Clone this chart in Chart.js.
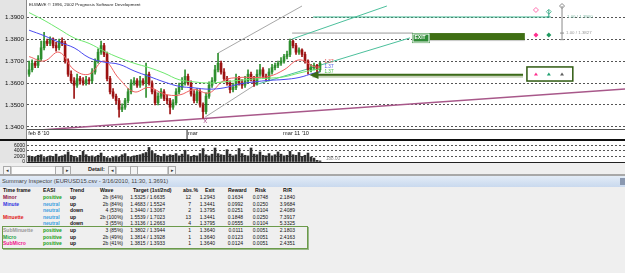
<!DOCTYPE html>
<html>
<head>
<meta charset="utf-8">
<script src="https://cdn.jsdelivr.net/npm/chart.js@4.4.1/dist/chart.umd.min.js"></script>
<style>
html, body { margin: 0; padding: 0; }
body { width: 625px; height: 273px; overflow: hidden; background: #efefef; position: relative;
       font-family: 'Liberation Sans', Arial, sans-serif; }
canvas { position: absolute; left: 0; }
#priceChart { top: 0; }
#volChart { top: 141px; z-index: 2; }
.abs { position: absolute; white-space: nowrap; }
#sepBlack { left: 0; top: 139px; width: 625px; height: 2px; background: #111; }
#scrollRow { left: 0; top: 163px; width: 625px; height: 12px; background: #efefef; }
.btn { position: absolute; top: 3px; width: 6px; height: 7px; background: #f4f4f4; border: 1px solid #aaa;
       font-size: 5px; line-height: 7px; text-align: center; color: #333; }
.track { position: absolute; top: 3px; height: 7px; background: #fbfbfb; border: 1px solid #c8c8c8; }
#grayLine { left: 0; top: 174px; width: 625px; height: 2px; background: #a8a8a8; }
#titleBar { left: 0; top: 176px; width: 625px; height: 11px; background: linear-gradient(#e3ecf7, #c9d9ee);
            font-size: 5.8px; line-height: 11px; color: #444; padding-left: 2px; box-sizing: border-box; }
#titleIcon { right: 0; top: 2px; width: 5px; height: 7px; background: #8a98b0; }
#inspector { left: 0; top: 187px; width: 625px; height: 86px; }
.cell { position: absolute; white-space: nowrap; font-size: 5px; line-height: 6px; color: #111; }
.head { font-weight: bold; font-size: 5.2px; }
#box { left: 2px; top: 226px; width: 304px; height: 21px; border: 1px solid #6b9a4a; box-shadow: 1px 1px 0 #9ab98a; }
</style>
</head>
<body>
<canvas id="priceChart" width="625" height="139"></canvas>
<div id="sepBlack" class="abs"></div>
<div id="scrollRow" class="abs">
  <div class="btn" style="left:3px">&#9666;</div>
  <div class="track" style="left:11px;width:44px"></div>
  <div class="btn" style="left:55px">&nbsp;</div>
  <div class="btn" style="left:63px">&#9656;</div>
  <div class="abs" style="left:88px;top:3px;font-size:5.5px;font-weight:bold;line-height:7px;color:#222">Detail:</div>
  <div class="btn" style="left:108px">&#9666;</div>
  <div class="track" style="left:116px;width:50px"></div>
  <div class="btn" style="left:130px">&nbsp;</div>
  <div class="btn" style="left:168px">&#9656;</div>
</div>
<canvas id="volChart" width="625" height="26"></canvas>
<div id="grayLine" class="abs"></div>
<div id="titleBar" class="abs">Summary Inspector (EURUSD15.csv - 3/16/2010, 11:30, 1.3691)<div id="titleIcon" class="abs"></div></div>
<div id="inspector" class="abs"></div>
<div id="box" class="abs"></div>
<script>
// candles, index 0..97
const candleOpen = [
  1.3640,1.3660,1.3690,1.3680,1.3710,1.3760,1.3790,1.3780,1.3800,1.3770,
  1.3760,1.3790,1.3780,1.3700,1.3640,1.3610,1.3590,1.3620,1.3610,1.3600,
  1.3615,1.3610,1.3650,1.3700,1.3740,1.3770,1.3730,1.3620,1.3560,1.3540,
  1.3520,1.3480,1.3490,1.3520,1.3560,1.3600,1.3610,1.3590,1.3610,1.3600,
  1.3640,1.3600,1.3560,1.3510,1.3540,1.3560,1.3530,1.3520,1.3490,1.3510,
  1.3560,1.3580,1.3600,1.3630,1.3600,1.3550,1.3520,1.3560,1.3500,1.3470,
  1.3540,1.3590,1.3610,1.3660,1.3690,1.3650,1.3620,1.3600,1.3570,1.3580,
  1.3620,1.3600,1.3590,1.3610,1.3640,1.3620,1.3600,1.3640,1.3660,1.3630,
  1.3620,1.3650,1.3670,1.3680,1.3690,1.3700,1.3720,1.3730,1.3790,1.3770,
  1.3740,1.3750,1.3730,1.3700,1.3660,1.3670,1.3680,1.3660];
const candleHigh = [
  1.3700,1.3705,1.3700,1.3725,1.3790,1.3830,1.3800,1.3810,1.3805,1.3785,
  1.3800,1.3805,1.3790,1.3710,1.3655,1.3625,1.3640,1.3630,1.3625,1.3630,
  1.3625,1.3665,1.3710,1.3755,1.3790,1.3780,1.3740,1.3630,1.3575,1.3550,
  1.3530,1.3505,1.3530,1.3575,1.3615,1.3625,1.3620,1.3630,1.3620,1.3690,
  1.3650,1.3610,1.3570,1.3555,1.3575,1.3570,1.3545,1.3530,1.3525,1.3575,
  1.3600,1.3625,1.3660,1.3640,1.3610,1.3565,1.3575,1.3570,1.3510,1.3555,
  1.3605,1.3625,1.3680,1.3735,1.3700,1.3665,1.3630,1.3610,1.3600,1.3640,
  1.3630,1.3615,1.3630,1.3660,1.3650,1.3630,1.3660,1.3685,1.3670,1.3640,
  1.3665,1.3685,1.3690,1.3700,1.3715,1.3730,1.3745,1.3800,1.3795,1.3780,
  1.3760,1.3755,1.3740,1.3705,1.3685,1.3690,1.3685,1.3695];
const candleLow = [
  1.3630,1.3650,1.3670,1.3670,1.3700,1.3750,1.3770,1.3770,1.3760,1.3745,
  1.3750,1.3770,1.3690,1.3630,1.3600,1.3530,1.3580,1.3595,1.3590,1.3590,
  1.3595,1.3600,1.3640,1.3690,1.3730,1.3720,1.3610,1.3550,1.3530,1.3505,
  1.3445,1.3470,1.3480,1.3510,1.3550,1.3590,1.3580,1.3580,1.3590,1.3535,
  1.3590,1.3550,1.3500,1.3500,1.3530,1.3520,1.3505,1.3460,1.3480,1.3500,
  1.3550,1.3570,1.3590,1.3590,1.3540,1.3510,1.3510,1.3490,1.3440,1.3460,
  1.3530,1.3580,1.3600,1.3650,1.3640,1.3610,1.3590,1.3555,1.3560,1.3570,
  1.3590,1.3575,1.3580,1.3600,1.3610,1.3585,1.3590,1.3630,1.3620,1.3610,
  1.3610,1.3640,1.3660,1.3670,1.3680,1.3690,1.3710,1.3720,1.3760,1.3730,
  1.3730,1.3720,1.3690,1.3640,1.3650,1.3660,1.3650,1.3650];
const candleClose = [
  1.3660,1.3690,1.3680,1.3710,1.3760,1.3790,1.3780,1.3800,1.3770,1.3760,
  1.3790,1.3780,1.3700,1.3640,1.3610,1.3590,1.3620,1.3610,1.3600,1.3615,
  1.3610,1.3650,1.3700,1.3740,1.3770,1.3730,1.3620,1.3560,1.3540,1.3520,
  1.3480,1.3490,1.3520,1.3560,1.3600,1.3610,1.3590,1.3610,1.3600,1.3640,
  1.3600,1.3560,1.3510,1.3540,1.3560,1.3530,1.3520,1.3490,1.3510,1.3560,
  1.3580,1.3600,1.3630,1.3600,1.3550,1.3520,1.3560,1.3500,1.3470,1.3540,
  1.3590,1.3610,1.3660,1.3690,1.3650,1.3620,1.3600,1.3570,1.3580,1.3620,
  1.3600,1.3590,1.3610,1.3640,1.3620,1.3600,1.3640,1.3660,1.3630,1.3620,
  1.3650,1.3670,1.3680,1.3690,1.3700,1.3720,1.3730,1.3790,1.3770,1.3740,
  1.3750,1.3730,1.3700,1.3660,1.3670,1.3680,1.3660,1.3690];
const volume = [
  2200,2000,1800,2400,2600,1600,1800,2200,2000,2800,
  1900,2200,2600,3600,2400,2000,1600,2400,3800,2600,
  2000,2200,1800,2400,3200,2000,1600,1400,1800,2200,
  1800,2600,3000,2000,1800,2200,2400,2600,3000,3400,
  5200,3800,3000,2400,2000,2800,2200,2600,2400,3000,
  2200,2800,4200,2600,2000,2400,2200,3000,4800,2600,
  2200,2800,5000,3000,2600,2400,4400,2800,2200,2600,
  4800,3000,2400,2200,5000,2800,2600,3600,2400,2200,
  3000,2200,2600,3600,2800,2200,2400,3800,2600,2400,
  3400,2000,2400,3200,1800,1400,600,400];
const volumeLast = '188.00';

// moving averages, sampled at candle indexes
const maIndex = [0,5,10,15,20,25,30,35,40,45,50,55,60,65,70,75,80,85,90,95,97];
const maSlow = [1.3920,1.3885,1.3845,1.3805,1.3780,1.3745,1.3715,1.3690,1.3670,1.3645,1.3615,
                1.3605,1.3600,1.3605,1.3612,1.3618,1.3622,1.3628,1.3645,1.3660,1.3665];
const maMid  = [1.3840,1.3815,1.3785,1.3760,1.3715,1.3695,1.3685,1.3655,1.3630,1.3605,1.3585,
                1.3578,1.3572,1.3578,1.3595,1.3605,1.3612,1.3616,1.3625,1.3645,1.3650];
const maFast = [1.3720,1.3700,1.3740,1.3660,1.3640,1.3700,1.3620,1.3560,1.3580,1.3550,1.3545,
                1.3570,1.3555,1.3612,1.3625,1.3625,1.3630,1.3660,1.3705,1.3675,1.3672];

// wave / channel lines  [index, price]
const baseLine     = [[-1, 1.3382], [199, 1.3573]];
const channelUpper = [[63, 1.3736], [91, 1.3950]];
const channelLower = [[58.7, 1.3445], [75.3, 1.3591]];
const targetUpper  = [[87.7, 1.3800], [119.3, 1.3950]];
const targetLower  = [[75.3, 1.3591], [127, 1.3805]];
const targetLevel  = [[94.7, 1.3900], [173.3, 1.3900]];
const exitLevel    = [[87.7, 1.3827], [128, 1.3827]];
const signalLevel  = [[94.5, 1.3636], [164.7, 1.3636]];
const exitZone     = [128, 165.3, 1.3827, 1.3795];
const signalBox    = [166, 181.3, 1.3673, 1.3609];
const markerIndex  = [169, 173.3, 177.7];
const waveEnd      = [58.7, 1.3433];

const yTicks = [1.34, 1.35, 1.36, 1.37, 1.38, 1.39];
const xTicks = [-0.3, 53, 84.7];
const xLabels = ["feb 8 '10", 'mar', "mar 11 '10"];
const volTicks = [0, 2000, 4000, 6000];

// summary inspector
const tableHead = ['Time frame', 'EASI', 'Trend', 'Wave', 'Target (1st/2nd)', 'abs.%', 'Exit', 'Reward', 'Risk', 'R/R'];
const timeFrames = ['Minor', 'Minute', '', 'Minuette', '', 'SubMinuette', 'Micro', 'SubMicro'];
const easi = ['positive', 'neutral', 'neutral', 'neutral', 'neutral', 'positive', 'positive', 'positive'];
const trend = ['up', 'up', 'down', 'up', 'down', 'up', 'up', 'up'];
const wave = ['2b (64%)', '2b (84%)', '4 (53%)', '2b (100%)', '3 (55%)', '3 (85%)', '2b (49%)', '2b (41%)'];
const target = ['1.5325 / 1.6635', '1.4683 / 1.5524', '1.3440 / 1.3067', '1.5539 / 1.7023',
                '1.3136 / 1.2663', '1.3802 / 1.3944', '1.3814 / 1.3928', '1.3815 / 1.3933'];
const absPct = ['12', '7', '2', '13', '4', '1', '1', '1'];
const exitPrice = ['1.2943', '1.3441', '1.3795', '1.3441', '1.3795', '1.3640', '1.3640', '1.3640'];
const reward = ['0.1634', '0.0992', '0.0251', '0.1848', '0.0555', '0.0111', '0.0123', '0.0124'];
const risk = ['0.0748', '0.0250', '0.0104', '0.0250', '0.0104', '0.0051', '0.0051', '0.0051'];
const ratio = ['2.1840', '3.9684', '2.4089', '7.3917', '5.3325', '2.1803', '2.4163', '2.4351'];

const frameColor = { Minor: '#8b1040', Minute: '#3434e0', Minuette: '#e01414', SubMinuette: '#9a9a9a', Micro: '#22a040', SubMicro: '#f0148c' };
const easiColor = { positive: '#14a014', neutral: '#3ea0e0' };

Chart.defaults.font.family = "'Liberation Sans', Arial, sans-serif";
Chart.defaults.color = '#111';

const UP = '#2f8f2f', DOWN = '#9c1212';
const candleColor = c => candleClose[c.dataIndex] >= candleOpen[c.dataIndex] ? UP : DOWN;
const toPts = arr => arr.map(p => ({ x: p[0], y: p[1] }));
const maPts = vals => vals.map((v, i) => ({ x: maIndex[i], y: v }));

function lineSet(data, color, width, order) {
  return { type: 'line', data: data, borderColor: color, borderWidth: width, pointRadius: 0,
           tension: 0, order: order };
}
// stop the axes from reserving room for half a label at each end
function noPad(s) {
  s.paddingTop = 0; s.paddingBottom = 0; s.paddingLeft = 0; s.paddingRight = 0;
}

// panel backgrounds
const panels = {
  id: 'panels',
  beforeDraw(chart) {
    const { ctx, chartArea: a, width } = chart;
    const h = chart.options.plugins.panels.bottom;
    ctx.save();
    ctx.fillStyle = '#ffffff';
    ctx.fillRect(a.left, 0, width - a.left, h);
    ctx.fillStyle = '#e4e4e4';
    ctx.fillRect(0, 0, a.left, h);
    ctx.fillStyle = '#8a8a8a';
    ctx.fillRect(a.left - 1, 0, 1, h);
    ctx.restore();
  }
};

// annotations drawn over the price panel
const marks = {
  id: 'marks',
  afterDatasetsDraw(chart) {
    const { ctx, scales: { x, y } } = chart;
    const px = v => x.getPixelForValue(v), py = v => y.getPixelForValue(v);
    ctx.save();

    // title
    ctx.fillStyle = '#222';
    ctx.font = "4.4px 'Liberation Sans'";
    ctx.textBaseline = 'middle';
    ctx.fillText('ELWAVE \u00a9 1996, 2002 Prognosis Software Development', 29, 5);

    // exit zone
    const ex0 = px(exitZone[0]), ex1 = px(exitZone[1]), ey0 = py(exitZone[2]), ey1 = py(exitZone[3]);
    ctx.fillStyle = '#3f6f14';
    ctx.fillRect(ex0, ey0, ex1 - ex0, ey1 - ey0);
    ctx.fillStyle = '#c8c8c8';
    ctx.fillRect(ex0, ey1, ex1 - ex0, 1);
    ctx.fillStyle = '#2e8a36';
    ctx.strokeStyle = '#ffffff';
    ctx.lineWidth = 1;
    ctx.fillRect(ex0 - 1, ey0, 18, 10);
    ctx.strokeRect(ex0, ey0 + 1, 16, 8);
    ctx.fillStyle = '#ffffff';
    ctx.font = "bold 5px 'Liberation Sans'";
    ctx.fillText('EXIT', ex0 + 1.5, ey0 + 5);

    // signal arrow head
    const sy = py(signalLevel[0][1]), sx = px(signalLevel[0][0]);
    ctx.fillStyle = '#3b6a18';
    ctx.beginPath();
    ctx.moveTo(sx - 3, sy);
    ctx.lineTo(sx + 6, sy - 4);
    ctx.lineTo(sx + 6, sy + 4);
    ctx.closePath();
    ctx.fill();

    // signal box
    const bx0 = px(signalBox[0]), bx1 = px(signalBox[1]), by0 = py(signalBox[2]), by1 = py(signalBox[3]);
    ctx.fillStyle = '#ffffff';
    ctx.fillRect(bx0, by0, bx1 - bx0, by1 - by0);
    ctx.strokeStyle = '#2f5a10';
    ctx.lineWidth = 1.5;
    ctx.strokeRect(bx0, by0, bx1 - bx0, by1 - by0);
    const triColors = ['#ff2e8e', '#1fa070', '#606060'];
    markerIndex.forEach((m, k) => {
      const mx = px(m), my = (by0 + by1) / 2;
      ctx.fillStyle = triColors[k];
      ctx.beginPath();
      ctx.moveTo(mx - 2, my + 1.5);
      ctx.lineTo(mx + 2, my + 1.5);
      ctx.lineTo(mx, my - 1.5);
      ctx.closePath();
      ctx.fill();
    });

    // target markers
    const pinkX = px(markerIndex[0]), tealX = px(markerIndex[1]), grayX = px(markerIndex[2]);
    function diamond(cx, cy, color, filled) {
      ctx.beginPath();
      ctx.moveTo(cx, cy - 2.5); ctx.lineTo(cx + 2.5, cy); ctx.lineTo(cx, cy + 2.5); ctx.lineTo(cx - 2.5, cy);
      ctx.closePath();
      ctx.lineWidth = 1;
      ctx.strokeStyle = color;
      if (filled) { ctx.fillStyle = color; ctx.fill(); } else ctx.stroke();
    }
    diamond(pinkX, py(1.3932), '#ff70b0', false);
    diamond(tealX, py(1.3924), '#60c0a0', false);
    ctx.strokeStyle = '#2fa080';
    ctx.beginPath();
    ctx.moveTo(tealX, py(1.3932)); ctx.lineTo(tealX, py(1.3900));
    ctx.moveTo(tealX - 2, py(1.3900)); ctx.lineTo(tealX + 2, py(1.3900));
    ctx.stroke();
    ctx.strokeStyle = '#8a8a8a';
    ctx.beginPath();
    ctx.moveTo(grayX, py(1.3950)); ctx.lineTo(grayX, py(1.3797));
    ctx.moveTo(grayX - 2, py(1.3827)); ctx.lineTo(grayX + 2, py(1.3827));
    ctx.moveTo(grayX - 2, py(1.3797)); ctx.lineTo(grayX + 2, py(1.3797));
    ctx.stroke();
    diamond(grayX, py(1.3950), '#8a8a8a', false);
    diamond(pinkX, py(1.3818), '#ff2e8e', true);
    diamond(tealX, py(1.3818), '#1f9a60', true);

    ctx.font = "4.4px 'Liberation Sans'";
    ctx.fillStyle = '#7fb8a4';
    ctx.fillText('1.00 / 1.3900', grayX + 5, py(1.3900));
    ctx.fillStyle = '#9a9a9a';
    ctx.fillText('1.00 / 1.3827', grayX + 4, py(1.3827));

    // last price labels
    const lx = px(candleClose.length + 0.5);
    ctx.font = "4.6px 'Liberation Sans'";
    ['#e05050', '#4050e0', '#40c040'].forEach((c, k) => {
      ctx.fillStyle = c;
      ctx.fillText('1.37', lx, py(1.3695) + k * 5);
    });

    // wave end label
    ctx.fillStyle = '#a04080';
    ctx.font = "6px 'Liberation Sans'";
    ctx.textAlign = 'center';
    ctx.fillText('X', px(waveEnd[0]), py(waveEnd[1]) + 2);

    // mar tick
    ctx.fillStyle = '#222';
    ctx.fillRect(px(xTicks[1]) - 1.5, chart.chartArea.bottom + 1, 1, 9);
    ctx.restore();
  }
};

const candleWicks = candleHigh.map((h, i) => ({ x: i, y: [candleLow[i], h] }));
const candleBodies = candleOpen.map((o, i) => ({ x: i, y: [o, candleClose[i]] }));

const xScale = {
  type: 'linear', min: -0.7, max: 198.7, offset: false,
  grid: { display: false, offset: false, drawTicks: false },
  border: { display: true, color: '#555', dash: [1, 1] },
  afterBuildTicks: s => { s.ticks = xTicks.map(v => ({ value: v })); },
  afterFit: s => { s.height = 10; noPad(s); },
  ticks: { autoSkip: false, maxRotation: 0, align: 'start', padding: 1,
           font: { size: 5.6 }, color: '#222',
           callback: (v) => xLabels[xTicks.indexOf(v)] }
};

new Chart(document.getElementById('priceChart'), {
  type: 'bar',
  data: {
    datasets: [
      lineSet(toPts(baseLine), '#a8588a', 1.5, 5),
      lineSet(toPts(channelUpper), '#a8a8a8', 1, 5),
      lineSet(toPts(channelLower), '#a8a8a8', 1, 5),
      lineSet(toPts(targetUpper), '#4cc09c', 1, 5),
      lineSet(toPts(targetLower), '#4cc09c', 1, 5),
      lineSet(toPts(targetLevel), '#3cb890', 1, 5),
      lineSet(toPts(exitLevel), '#9a9a9a', 1, 5),
      lineSet(toPts(signalLevel).map(p => ({ x: p.x, y: p.y - 0.0008 })), '#c6d2b8', 2, 5),
      lineSet(toPts(signalLevel), '#3b6a18', 2.5, 5),
      { type: 'bar', data: candleWicks, backgroundColor: candleColor, barThickness: 1, grouped: false, order: 3 },
      { type: 'bar', data: candleBodies, backgroundColor: candleColor, barThickness: 2, minBarLength: 1, grouped: false, order: 3 },
      Object.assign(lineSet(maPts(maSlow), '#6ee86e', 1, 1), { tension: 0.4 }),
      Object.assign(lineSet(maPts(maMid), '#4a4af0', 1, 1), { tension: 0.4 }),
      Object.assign(lineSet(maPts(maFast), '#f06060', 1, 1), { tension: 0.4 })
    ]
  },
  options: {
    responsive: false, animation: false,
    layout: { padding: 0 },
    plugins: { legend: { display: false }, tooltip: { enabled: false }, panels: { bottom: 139 } },
    scales: {
      x: xScale,
      y: {
        position: 'left', min: 1.33909, max: 1.39773,
        afterBuildTicks: s => { s.ticks = yTicks.map(v => ({ value: v })); },
        afterFit: s => { s.width = 27; noPad(s); },
        grid: { color: '#555', drawTicks: false, borderDash: [2, 2] },
        border: { display: false, dash: [2, 2] },
        ticks: { autoSkip: false, padding: 3, font: { size: 6.2 }, color: '#111',
                 callback: v => v.toFixed(4) }
      }
    }
  },
  plugins: [panels, marks]
});

// volume panel
const volLabel = {
  id: 'volLabel',
  afterDatasetsDraw(chart) {
    const { ctx, scales: { x }, chartArea: a } = chart;
    ctx.save();
    ctx.fillStyle = '#8a8a8a';
    ctx.font = "4.6px 'Liberation Sans'";
    ctx.textBaseline = 'middle';
    ctx.fillText(volumeLast, x.getPixelForValue(volume.length + 1), a.bottom - 3);
    ctx.restore();
  }
};

new Chart(document.getElementById('volChart'), {
  type: 'bar',
  data: {
    datasets: [{ data: volume.map((v, i) => ({ x: i, y: v })), backgroundColor: '#2e2e2e',
                 barThickness: 2, grouped: false }]
  },
  options: {
    responsive: false, animation: false,
    layout: { padding: { bottom: 5 } },
    plugins: { legend: { display: false }, tooltip: { enabled: false }, panels: { bottom: 22 } },
    scales: {
      x: { type: 'linear', min: -0.7, max: 198.7, offset: false, display: false },
      y: {
        position: 'left', min: 0, max: 7500,
        afterBuildTicks: s => { s.ticks = volTicks.map(v => ({ value: v })); },
        afterFit: s => { s.width = 27; noPad(s); },
        grid: { color: c => c.tick && c.tick.value === 0 ? '#222' : '#555', drawTicks: false },
        border: { display: false, dash: c => c.tick && c.tick.value === 0 ? [] : [2, 2] },
        ticks: { autoSkip: false, padding: 2, font: { size: 5 }, color: '#111',
                 callback: v => String(v) }
      }
    }
  },
  plugins: [panels, volLabel]
});

// summary table
const cols = [
  { key: timeFrames, left: 3, headLeft: 3, bold: true },
  { key: easi, left: 43, headLeft: 43, bold: true },
  { key: trend, left: 70, headLeft: 70, bold: true },
  { key: wave, right: 123, headLeft: 100 },
  { key: target, right: 165, headLeft: 133 },
  { key: absPct, right: 191, headLeft: 183 },
  { key: exitPrice, right: 215, headLeft: 205 },
  { key: reward, right: 243, headLeft: 228 },
  { key: risk, right: 268, headLeft: 255 },
  { key: ratio, right: 295, headLeft: 283 }
];
const panel = document.getElementById('inspector');
function addCell(text, css, cls) {
  const d = document.createElement('div');
  d.className = 'cell ' + (cls || '');
  d.textContent = text;
  Object.assign(d.style, css);
  panel.appendChild(d);
}
cols.forEach((c, ci) => {
  addCell(tableHead[ci], { left: c.headLeft + 'px', top: '0px' }, 'head');
  c.key.forEach((val, ri) => {
    const css = { top: (7 + ri * 6.6) + 'px' };
    if (c.right !== undefined) { css.right = (625 - c.right) + 'px'; } else { css.left = c.left + 'px'; }
    if (c.bold) css.fontWeight = 'bold';
    if (ci === 0) css.color = frameColor[val] || '#111';
    if (ci === 1) css.color = easiColor[val];
    addCell(val, css);
  });
});
</script>
</body>
</html>
